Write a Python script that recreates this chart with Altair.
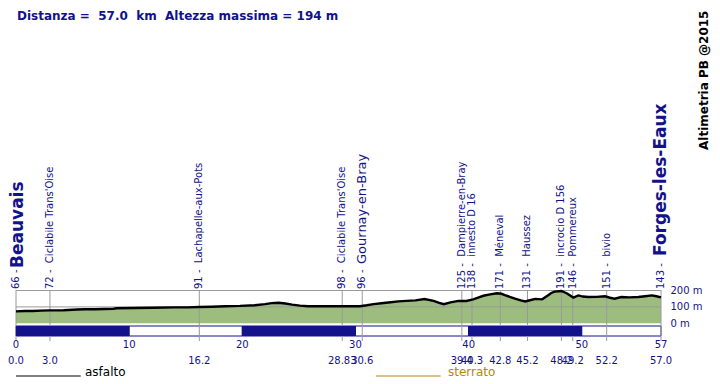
import altair as alt
import pandas as pd

# ---------------- data ----------------
prof_km = [0, 0.8, 1.5, 2.2, 3.0, 4.2, 5.4, 6.1, 7.0, 8.6, 8.9, 10.5, 12.1, 14.0, 15.2, 16.2,
           17.3, 18.5, 19.8, 21.1, 22.0, 22.6, 23.2, 23.8, 24.4, 25.1, 25.8, 27.0, 28.6, 29.5,
           30.4, 31.0, 31.6, 32.3, 33.1, 33.8, 34.5, 35.3, 36.1, 36.9, 37.4, 37.8, 38.4, 39.1,
           39.8, 40.4, 40.9, 41.3, 41.9, 42.5, 42.9, 43.2, 43.7, 44.1, 44.6, 45.0, 45.5, 45.9,
           46.5, 47.0, 47.3, 47.6, 48.2, 48.7, 49.25, 49.7, 50.1, 50.6, 51.3, 52.05, 52.5, 52.9,
           53.5, 54.2, 55.0, 55.6, 56.2, 56.6, 57.0]
prof_elev = [73, 75, 75, 77, 79, 80, 84, 86, 86, 89, 92, 93, 95, 97, 97, 99,
             101, 104, 106, 110, 117, 123, 125, 121, 114, 108, 104, 104, 104, 105,
             104, 110, 117, 122, 128, 134, 137, 140, 148, 137, 124, 116, 128, 137,
             136, 146, 158, 168, 176, 183, 180, 172, 160, 150, 140, 133, 142, 149,
             146, 170, 185, 193, 197, 182, 157, 170, 163, 160, 161, 165, 156, 150,
             160, 158, 160, 165, 170, 165, 158]

wp_km = [0.0, 3.0, 16.2, 28.83, 30.6, 39.4, 40.3, 42.8, 45.2, 48.2, 49.2, 52.2, 57.0]
wp_km_text = ["0.0", "3.0", "16.2", "28.83", "30.6", "39.4", "40.3", "42.8", "45.2", "48.2",
              "49.2", "52.2", "57.0"]
wp_elev = [66, 72, 91, 98, 96, 125, 138, 171, 131, 191, 146, 151, 143]
wp_name = ["Beauvais", "Ciclabile Trans'Oise", "Lachapelle-aux-Pots", "Ciclabile Trans'Oise",
           "Gournay-en-Bray", "Dampierre-en-Bray", "innesto D 16", "Méneval", "Haussez",
           "incrocio D 156", "Pommereux", "bivio", "Forges-les-Eaux"]
wp_major = [True, False, False, False, True, False, False, False, False, False, False, False, True]

km_ticks = [0, 10, 20, 30, 40, 50, 57]
seg_start = [0, 10, 20, 30, 40, 50]
seg_end = [10, 20, 30, 40, 50, 57]
seg_kind = ["pieno", "vuoto", "pieno", "vuoto", "pieno", "vuoto"]
grid_levels = [100, 200]
y_levels = [0, 100, 200]

title_text = "Distanza =\u00a0\u00a057.0\u00a0\u00a0km\u00a0\u00a0Altezza massima = 194 m"
credit_text = "Altimetria PB @2015"
legend_labels = ["asfalto", "sterrato"]

# ---------------- style ----------------
NAVY = "#12128a"
GREEN = "#9dbd7f"
GRAY = "#9a9a9a"
GOLD = "#b8860b"
BG = "white"
FONT = "DejaVu Sans"
W, H = 645, 328

prof = pd.DataFrame({"km": prof_km, "elev": prof_elev})
wp = pd.DataFrame({
    "km": wp_km, "kmtxt": wp_km_text, "elev": wp_elev, "name": wp_name, "major": wp_major,
})
wp["label"] = [f"{e} -" if m else f"{e} -\u00a0\u00a0{n}" for e, n, m in zip(wp_elev, wp_name, wp_major)]
segs = pd.DataFrame({"s": seg_start, "e": seg_end, "kind": seg_kind})
ticks = pd.DataFrame({"km": km_ticks, "t": [str(t) for t in km_ticks]})
grid = pd.DataFrame({"level": grid_levels})
one = pd.DataFrame({"t": [title_text]})

xs = alt.Scale(domain=[0, 57], nice=False, zero=False)
ys = alt.Scale(domain=[0, 200], range=[315.3, 282.5], nice=False, zero=False)
yaxis = alt.Axis(orient="right", values=y_levels, labelExpr="datum.value + ' m'", grid=False,
                 domain=False, ticks=False, tickSize=0, labelPadding=9, labelColor=NAVY,
                 labelFontSize=10, labelFont=FONT, title=None, labelOverlap=False,
                 labelBaseline="middle")

X = alt.X("km:Q", scale=xs, axis=None)

area = alt.Chart(prof).mark_area(color=GREEN).encode(
    x=X, y=alt.Y("elev:Q", scale=ys, axis=yaxis))

gridl = alt.Chart(grid).mark_rule(color=GRAY, strokeWidth=1).encode(
    y=alt.Y("level:Q", scale=ys, axis=yaxis), x=alt.value(0), x2=alt.value(W))

bar_all = alt.Chart(segs).mark_rect(stroke=NAVY, strokeWidth=1).encode(
    x=alt.X("s:Q", scale=xs, axis=None), x2="e:Q",
    y=alt.value(318), y2=alt.value(328),
    fill=alt.Fill("kind:N", scale=alt.Scale(domain=["pieno", "vuoto"], range=[NAVY, "white"]),
                  legend=None))

rules = alt.Chart(wp).mark_rule(color=GRAY, strokeWidth=1).encode(
    x=X, y=alt.value(282), y2=alt.value(333))

bar_full = alt.Chart(segs).transform_filter("datum.kind == 'pieno'").mark_rect(
    color=NAVY).encode(
    x=alt.X("s:Q", scale=xs, axis=None), x2="e:Q", y=alt.value(318), y2=alt.value(328))

line = alt.Chart(prof).mark_line(color="black", strokeWidth=2.4).encode(
    x=X, y=alt.Y("elev:Q", scale=ys, axis=yaxis))

labels = alt.Chart(wp).mark_text(angle=270, align="left", baseline="middle", fontSize=10,
                                 font=FONT, color=NAVY).encode(
    x=X, y=alt.value(281), text="label:N")


def major_name(name, size, bold, dx, dy=0):
    return alt.Chart(wp).transform_filter(alt.datum.name == name).mark_text(
        angle=270, align="left", baseline="middle", fontSize=size, font=FONT,
        fontWeight="bold" if bold else "normal", color=NAVY, dx=dx, dy=dy).encode(
        x=X, y=alt.value(281), text="name:N")


n1 = major_name("Beauvais", 17, True, 21, 1.5)
n2 = major_name("Gournay-en-Bray", 13, False, 25)
n3 = major_name("Forges-les-Eaux", 17, True, 33)

row1 = alt.Chart(ticks).mark_text(fontSize=10, font=FONT, color=NAVY, baseline="alphabetic",
                                  align="center").encode(x=X, y=alt.value(339.7), text="t:N")
row2 = alt.Chart(wp).mark_text(fontSize=10, font=FONT, color=NAVY, baseline="alphabetic",
                               align="center").encode(x=X, y=alt.value(355.7), text="kmtxt:N")

title = alt.Chart(one).mark_text(fontSize=12, font=FONT, fontWeight="bold", color=NAVY,
                                 align="left", baseline="alphabetic").encode(
    x=alt.value(1), y=alt.value(12), text="t:N")

credit = alt.Chart(pd.DataFrame({"t": [credit_text]})).mark_text(
    fontSize=12, font=FONT, fontWeight="bold", color="black", angle=270, align="left",
    baseline="middle").encode(x=alt.value(688), y=alt.value(142), text="t:N")

leg1_line = alt.Chart(one).mark_rule(color="black", strokeWidth=1).encode(
    x=alt.value(0), x2=alt.value(64.7), y=alt.value(368))
leg1_text = alt.Chart(pd.DataFrame({"t": [legend_labels[0]]})).mark_text(
    fontSize=12, font=FONT, color="black", align="left", baseline="alphabetic").encode(
    x=alt.value(69), y=alt.value(367.5), text="t:N")
leg2_line = alt.Chart(one).mark_rule(color=GOLD, strokeWidth=1).encode(
    x=alt.value(360), x2=alt.value(424.7), y=alt.value(368))
leg2_text = alt.Chart(pd.DataFrame({"t": [legend_labels[1]]})).mark_text(
    fontSize=12, font=FONT, color=GOLD, align="left", baseline="alphabetic").encode(
    x=alt.value(432), y=alt.value(367.5), text="t:N")

chart = alt.layer(
    area, gridl, bar_all, rules, bar_full, line, labels, n1, n2, n3, row1, row2,
    title, credit, leg1_line, leg1_text, leg2_line, leg2_text
).properties(
    width=W, height=H,
    autosize=alt.AutoSizeParams(type="none"),
    padding={"left": 8, "top": 0, "right": 51, "bottom": 48},
    background=BG,
).configure_view(stroke=None)

chart.save("out.html", embed_options={"renderer": "svg", "actions": False})
